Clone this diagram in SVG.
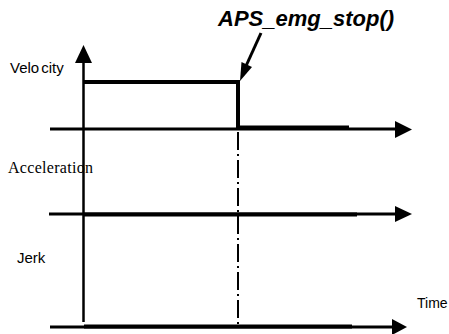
<svg xmlns="http://www.w3.org/2000/svg" width="449" height="334" viewBox="0 0 449 334">
  <style>
    .axis { stroke: #000; stroke-width: 3; fill: none; }
    .trace { stroke: #000; stroke-width: 4; fill: none; }
    .vert { stroke: #000; stroke-width: 2.5; fill: none; }
    .stop { stroke: #000; stroke-width: 2; fill: none; stroke-dasharray: 18 4 2 4; }
    .sans { font-family: "Liberation Sans", Arial, sans-serif; fill: #000; }
    .serif { font-family: "Liberation Serif", "Times New Roman", serif; fill: #000; }
  </style>

  <rect width="449" height="334" fill="#fff"/>

  <g id="connectors">
    <!-- time axes -->
    <line class="axis" x1="50" y1="129" x2="396" y2="129"/>
    <polygon points="395,121 412,129.5 395,138" fill="#000"/>
    <line class="axis" x1="49" y1="214" x2="396" y2="214"/>
    <polygon points="395,206 412,214 395,222" fill="#000"/>
    <line class="axis" x1="50" y1="327" x2="393" y2="327"/>
    <polygon points="392,319 407,327 392,335" fill="#000"/>

    <!-- vertical value axis -->
    <line class="vert" x1="83.5" y1="60" x2="83.5" y2="322"/>
    <polygon points="75,63 83.5,45 92,63" fill="#000"/>

    <!-- velocity profile -->
    <polyline class="trace" points="83.5,82 238,82 238,128"/>
    <line class="trace" x1="238" y1="127.5" x2="349" y2="127.5"/>
    <!-- acceleration and jerk traces on their axes -->
    <line class="trace" x1="84" y1="214.5" x2="357" y2="214.5"/>
    <line class="trace" x1="84" y1="326.5" x2="352" y2="326.5"/>

    <!-- emergency stop instant -->
    <line class="stop" x1="238" y1="132" x2="238" y2="326"/>

    <!-- call pointer -->
    <line x1="261" y1="33" x2="246" y2="66" stroke="#000" stroke-width="3"/>
    <polygon points="240,81 241.5,62 252,67" fill="#000"/>
  </g>

  <g id="label-call">
    <text class="sans" x="218" y="26" font-size="22" font-weight="bold" font-style="italic">APS_emg_stop()</text>
  </g>
  <g id="label-velocity">
    <text class="sans" x="10" y="73" font-size="15">Velo<tspan dx="2">city</tspan></text>
  </g>
  <g id="label-acceleration">
    <text class="serif" x="8" y="173" font-size="16" textLength="85">Acceleration</text>
  </g>
  <g id="label-jerk">
    <text class="sans" x="17" y="263" font-size="15">Jerk</text>
  </g>
  <g id="label-time">
    <text class="sans" x="417" y="308" font-size="14">Time</text>
  </g>
</svg>
